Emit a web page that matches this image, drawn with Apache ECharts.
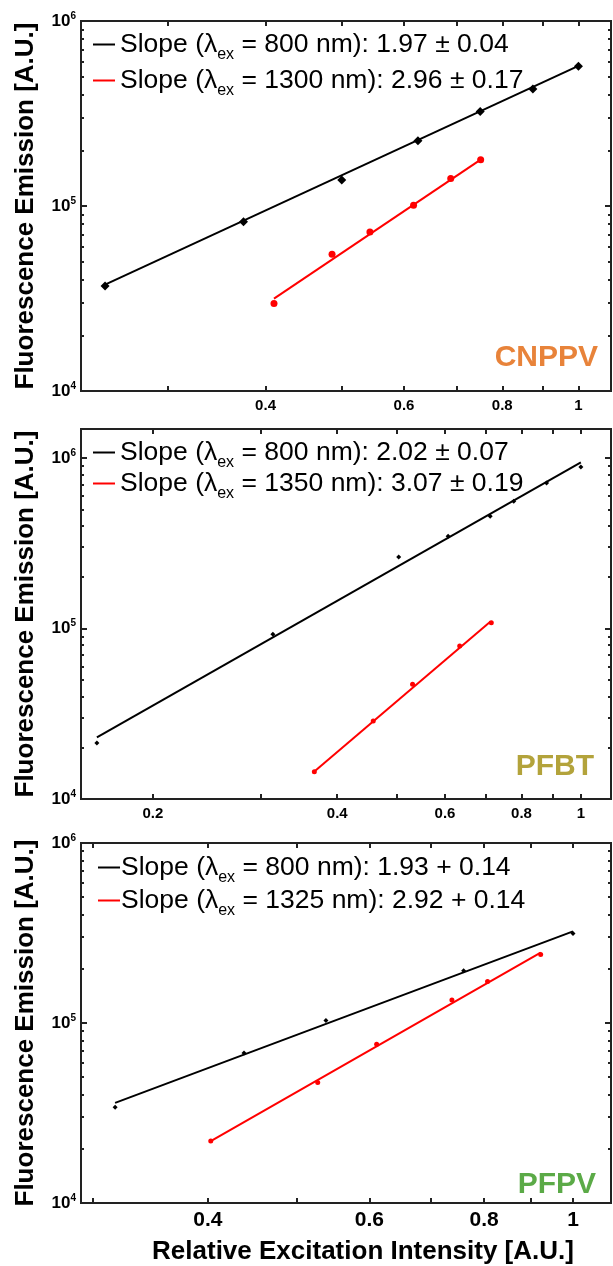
<!DOCTYPE html>
<html><head><meta charset="utf-8">
<script src="https://cdn.jsdelivr.net/npm/echarts@6/dist/echarts.min.js"></script>
<style>html,body{margin:0;padding:0;background:#fff}#c{width:613px;height:1266px}</style>
</head><body><div id="c"></div>
<script>
// ---------- data ----------
// Panel 1: CNPPV
const cnppvX800  = [0.25, 0.375, 0.5, 0.625, 0.75, 0.875, 1.0];
const cnppvY800  = [3.70e4, 8.23e4, 1.38e5, 2.25e5, 3.24e5, 4.29e5, 5.69e5];
const cnppvFitX800 = [0.25, 1.0];
const cnppvFitY800 = [3.76e4, 5.72e5];
const cnppvX1300 = [0.41, 0.486, 0.543, 0.617, 0.688, 0.751];
const cnppvY1300 = [2.97e4, 5.48e4, 7.24e4, 1.01e5, 1.41e5, 1.78e5];
const cnppvFitX1300 = [0.41, 0.751];
const cnppvFitY1300 = [3.16e4, 1.78e5];
// Panel 2: PFBT
const pfbtX800  = [0.162, 0.314, 0.504, 0.607, 0.711, 0.777, 0.879, 1.0];
const pfbtY800  = [2.13e4, 9.25e4, 2.63e5, 3.48e5, 4.56e5, 5.57e5, 7.14e5, 8.86e5];
const pfbtFitX800 = [0.162, 1.0];
const pfbtFitY800 = [2.30e4, 9.44e5];
const pfbtX1350 = [0.367, 0.458, 0.531, 0.634, 0.714];
const pfbtY1350 = [1.445e4, 2.87e4, 4.71e4, 7.90e4, 1.08e5];
const pfbtFitX1350 = [0.367, 0.712];
const pfbtFitY1350 = [1.45e4, 1.10e5];
// Panel 3: PFPV
const pfpvX800  = [0.317, 0.438, 0.538, 0.760, 1.0];
const pfpvY800  = [3.40e4, 6.82e4, 1.034e5, 1.95e5, 3.14e5];
const pfpvFitX800 = [0.317, 1.0];
const pfpvFitY800 = [3.60e4, 3.23e5];
const pfpvX1325 = [0.403, 0.527, 0.611, 0.738, 0.807, 0.922];
const pfpvY1325 = [2.21e4, 4.67e4, 7.63e4, 1.343e5, 1.70e5, 2.40e5];
const pfpvFitX1325 = [0.403, 0.922];
const pfpvFitY1325 = [2.21e4, 2.46e5];

// legend texts
const legendTexts = [
  ['Slope (λex = 800 nm): 1.97 ± 0.04', 'Slope (λex = 1300 nm): 2.96 ± 0.17'],
  ['Slope (λex = 800 nm): 2.02 ± 0.07', 'Slope (λex = 1350 nm): 3.07 ± 0.19'],
  ['Slope (λex = 800 nm): 1.93 + 0.14', 'Slope (λex = 1325 nm): 2.92 + 0.14']
];
const panelNames = ['CNPPV', 'PFBT', 'PFPV'];
const yTitle = 'Fluorescence Emission [A.U.]';
const xTitle = 'Relative Excitation Intensity [A.U.]';

// tick values
const xTicks1 = [0.3, 0.4, 0.5, 0.6, 0.7, 0.8, 0.9, 1.0];
const xLabels1 = [0.4, 0.6, 0.8, 1.0];
const xTicks2 = [0.2, 0.3, 0.4, 0.5, 0.6, 0.7, 0.8, 0.9, 1.0];
const xLabels2 = [0.2, 0.4, 0.6, 0.8, 1.0];
const xTicks3 = [0.3, 0.4, 0.5, 0.6, 0.7, 0.8, 0.9, 1.0];
const xLabels3 = [0.4, 0.6, 0.8, 1.0];
const yMajor = [1e4, 1e5, 1e6];
const yMinor = [2e4,3e4,4e4,5e4,6e4,7e4,8e4,9e4,2e5,3e5,4e5,5e5,6e5,7e5,8e5,9e5,2e6];

// ---------- layout ----------
const FONT = '"Liberation Sans", Arial, sans-serif';
const zip = (a, b) => a.map((v, i) => [v, b[i]]);
const panels = [
  { top: 21, height: 370, xmin: 0.233, xmax: 1.10, ymax: 1e6, xTicks: xTicks1, xLabels: xLabels1, xFont: 15,
    black: zip(cnppvX800, cnppvY800), blackFit: zip(cnppvFitX800, cnppvFitY800),
    red: zip(cnppvX1300, cnppvY1300), redFit: zip(cnppvFitX1300, cnppvFitY1300),
    bSym: 'diamond', bSize: 9, rSym: 'circle', rSize: 7,
    legTop: 31, legLeft: 93, legGap: 4, legPad: 0,
    tagColor: '#E8833A', tagX: 598, tagY: 358 },
  { top: 429, height: 370, xmin: 0.1526, xmax: 1.12, ymax: 1.48e6, xTicks: xTicks2, xLabels: xLabels2, xFont: 15,
    black: zip(pfbtX800, pfbtY800), blackFit: zip(pfbtFitX800, pfbtFitY800),
    red: zip(pfbtX1350, pfbtY1350), redFit: zip(pfbtFitX1350, pfbtFitY1350),
    bSym: 'diamond', bSize: 5, rSym: 'circle', rSize: 5,
    legTop: 439, legLeft: 93, legGap: -1, legPad: 0,
    tagColor: '#B3A33B', tagX: 594, tagY: 767 },
  { top: 843, height: 370, xmin: 0.291, xmax: 1.10, ymax: 1e6, xTicks: xTicks3, xLabels: xLabels3, xFont: 21,
    black: zip(pfpvX800, pfpvY800), blackFit: zip(pfpvFitX800, pfpvFitY800),
    red: zip(pfpvX1325, pfpvY1325), redFit: zip(pfpvFitX1325, pfpvFitY1325),
    bSym: 'diamond', bSize: 5, rSym: 'circle', rSize: 5,
    legTop: 854, legLeft: 98, legGap: 1, legPad: -4,
    tagColor: '#5BAA47', tagX: 596, tagY: 1185 }
];

const AX = '#222';
const grid = [], xAxis = [], yAxis = [], series = [], legend = [], graphic = [];
const fmtX = v => String(+(+v).toFixed(3));
const fmtY = v => '{b|10}{s|' + Math.round(Math.log10(v)) + '}';

panels.forEach((p, i) => {
  grid.push({ left: 81, right: 2, top: p.top, height: p.height, show: true,
              borderColor: AX, borderWidth: 2, backgroundColor: 'transparent' });
  ['bottom', 'top'].forEach(pos => {
    xAxis.push({
      type: 'log', logBase: 10, gridIndex: i, position: pos, min: p.xmin, max: p.xmax,
      axisLine: { show: false },
      axisTick: { show: true, inside: true, length: 5, customValues: p.xTicks, lineStyle: { color: AX, width: 2 } },
      axisLabel: { show: pos === 'bottom', customValues: p.xLabels, formatter: fmtX,
                   fontFamily: FONT, fontWeight: 'bold', fontSize: p.xFont, color: '#000', margin: 7 },
      splitLine: { show: false }, minorTick: { show: false },
      name: (i === 2 && pos === 'bottom') ? xTitle : '',
      nameLocation: 'middle', nameGap: 36,
      nameTextStyle: { fontFamily: FONT, fontWeight: 'bold', fontSize: 26, color: '#000', padding: [0, 0, 0, 34] }
    });
  });
  ['left', 'right'].forEach(pos => {
    [true, false].forEach(major => {
      yAxis.push({
        type: 'log', logBase: 10, gridIndex: i, position: pos, min: 1e4, max: p.ymax,
        axisLine: { show: false },
        axisTick: { show: true, inside: true, length: major ? 6 : 3,
                    customValues: major ? yMajor : yMinor, lineStyle: { color: AX, width: 2 } },
        axisLabel: { show: major && pos === 'left', customValues: yMajor, formatter: fmtY, margin: 5,
                     rich: { b: { fontFamily: FONT, fontWeight: 'bold', fontSize: 17, color: '#000' },
                             s: { fontFamily: FONT, fontWeight: 'bold', fontSize: 10, color: '#000',
                                  verticalAlign: 'middle', padding: [0, 0, 10, 0] } } },
        splitLine: { show: false }, minorTick: { show: false },
        name: (major && pos === 'left') ? yTitle : '',
        nameLocation: 'middle', nameRotate: 90, nameGap: 42,
        nameTextStyle: { fontFamily: FONT, fontWeight: 'bold', fontSize: 26, color: '#000' }
      });
    });
  });
  const xi = 2 * i, yi = 4 * i;
  series.push({ type: 'line', name: legendTexts[i][0], xAxisIndex: xi, yAxisIndex: yi, data: p.blackFit,
                showSymbol: false, symbol: 'none', lineStyle: { color: '#000', width: 2 }, itemStyle: { color: '#000' },
                silent: true, animation: false, z: 3 });
  series.push({ type: 'line', name: legendTexts[i][1], xAxisIndex: xi, yAxisIndex: yi, data: p.redFit,
                showSymbol: false, symbol: 'none', lineStyle: { color: '#ff0000', width: 2 }, itemStyle: { color: '#ff0000' },
                silent: true, animation: false, z: 3 });
  series.push({ type: 'scatter', name: panelNames[i] + ' 800', xAxisIndex: xi, yAxisIndex: yi, data: p.black,
                symbol: p.bSym, symbolSize: p.bSize, itemStyle: { color: '#000', opacity: 1 }, animation: false, z: 4 });
  series.push({ type: 'scatter', name: panelNames[i] + ' red', xAxisIndex: xi, yAxisIndex: yi, data: p.red,
                symbol: p.rSym, symbolSize: p.rSize, itemStyle: { color: '#ff0000', opacity: 1 }, animation: false, z: 4 });
  legend.push({
    data: legendTexts[i], orient: 'vertical', left: p.legLeft, top: p.legTop, itemGap: p.legGap,
    icon: 'rect', itemWidth: 22, itemHeight: 2, padding: 0, selectedMode: false,
    formatter: n => n.replace('λex', 'λ{sub|ex}'),
    textStyle: { fontFamily: FONT, fontSize: 26.5, color: '#000', padding: [0, 0, 0, p.legPad],
                 rich: { sub: { fontFamily: FONT, fontSize: 16, color: '#000', padding: [21, 0, 0, 0], verticalAlign: 'middle' } } }
  });
  graphic.push({ type: 'text', x: p.tagX, y: p.tagY, silent: true,
                 style: { text: panelNames[i], fill: p.tagColor, font: 'bold 30px ' + FONT, align: 'right', verticalAlign: 'middle' } });
});

const chart = echarts.init(document.getElementById('c'), null, { renderer: 'canvas' });
chart.setOption({ animation: false, backgroundColor: '#fff', grid, xAxis, yAxis, series, legend, graphic });
</script></body></html>
